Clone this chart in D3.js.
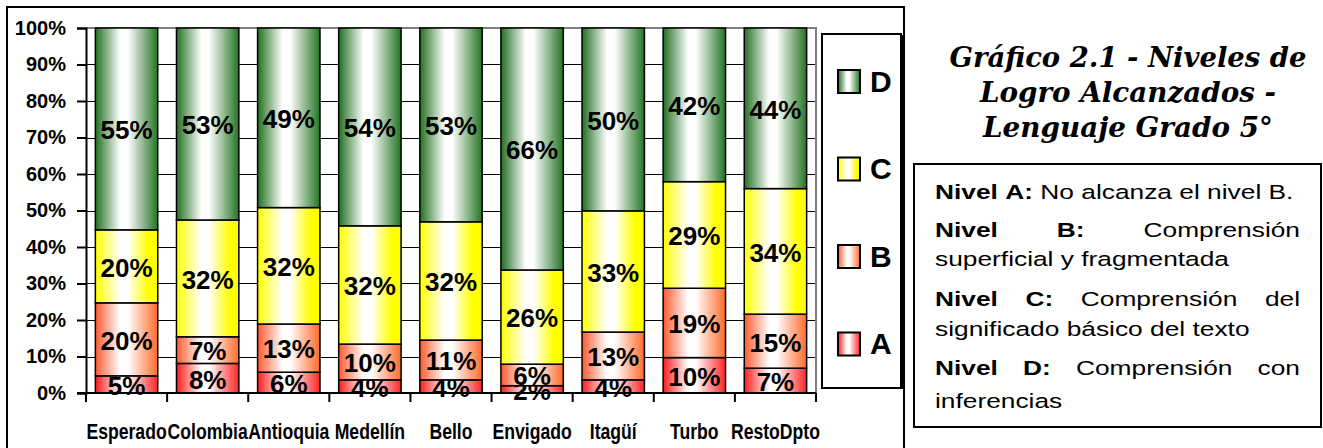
<!DOCTYPE html>
<html>
<head>
<meta charset="utf-8">
<script src="https://cdn.jsdelivr.net/npm/d3@7/dist/d3.min.js"></script>
<style>
  body { margin: 0; background: #fff; }
  svg { display: block; }
</style>
</head>
<body>
<svg id="chart" width="1323" height="448"></svg>
<script>
// values (percent of students per level)
var categories = ["Esperado", "Colombia", "Antioquia", "Medellín", "Bello", "Envigado", "Itagüí", "Turbo", "RestoDpto"];
var levelA = [4.7, 8.1, 5.7, 3.6, 3.6, 2.0, 3.6, 9.7, 6.8];
var levelB = [20.0, 7.3, 13.2, 9.8, 10.9, 5.9, 13.1, 19.0, 14.8];
var levelC = [20.0, 32.0, 31.9, 32.4, 32.4, 25.8, 33.2, 29.2, 34.4];
var levelD = [55.3, 52.6, 49.2, 54.2, 53.1, 66.3, 50.1, 42.1, 44.0];
var levelNames = ["A", "B", "C", "D"];
var yTicks = [0, 10, 20, 30, 40, 50, 60, 70, 80, 90, 100];
var titleLines = ["Gráfico 2.1 - Niveles de", "Logro Alcanzados -", "Lenguaje Grado 5°"];
var noteLines = [
  {bold: "Nivel A:", text: "No alcanza el nivel B.", justify: false},
  {bold: "Nivel B:", text: "Comprensión", justify: true},
  {bold: "", text: "superficial y fragmentada", justify: false},
  {bold: "Nivel C:", text: "Comprensión del", justify: true},
  {bold: "", text: "significado básico del texto", justify: false},
  {bold: "Nivel D:", text: "Comprensión con", justify: true},
  {bold: "", text: "inferencias", justify: false}
];

var svg = d3.select("#chart"),
  sans = "'Liberation Sans', Arial, Helvetica, sans-serif",
  narrow = "'Liberation Sans Narrow', 'Arial Narrow', 'Liberation Sans', Arial, sans-serif",
  margin = {top: 28, left: 86, right: 816, bottom: 393},
  // edge colour left, edge colour right for each level
  gradEdges = {
    A: ["#ff1a1a", "#ff2424"],
    B: ["#ff5a30", "#ff6a2a"],
    C: ["#ffff00", "#ffff00"],
    D: ["#216f21", "#237423"]
  };

var rows = categories.map(function(c, i) {
  return {cat: c, A: levelA[i], B: levelB[i], C: levelC[i], D: levelD[i]};
});
var stacked = d3.stack().keys(levelNames)(rows);

var x = d3.scaleBand()
  .domain(categories)
  .range([margin.left, margin.right])
  .paddingInner(0.3 / 1.3)
  .paddingOuter(0.15 / 1.3);
var y = d3.scaleLinear().domain([0, 100]).range([margin.bottom, margin.top]);

// gradients, white centre and saturated edges
var defs = svg.append("defs");
levelNames.forEach(function(n) {
  var g = defs.append("linearGradient")
    .attr("id", "grad" + n)
    .attr("x1", 0).attr("x2", 1).attr("y1", 0).attr("y2", 0);
  g.append("stop").attr("offset", 0).attr("stop-color", gradEdges[n][0]);
  g.append("stop").attr("offset", 0.4).attr("stop-color", "#ffffff");
  g.append("stop").attr("offset", 0.52).attr("stop-color", "#ffffff");
  g.append("stop").attr("offset", n === "C" ? 0.85 : 1).attr("stop-color", gradEdges[n][1]);
  if (n === "C") g.append("stop").attr("offset", 1).attr("stop-color", gradEdges[n][1]);
});

// outer frame of the chart
svg.append("rect")
  .attr("x", 7).attr("y", 7).attr("width", 897).attr("height", 470)
  .attr("fill", "none").attr("stroke", "#000").attr("stroke-width", 2);

// grid
svg.append("g").selectAll("line")
  .data(yTicks.filter(function(t) { return t > 0 && t < 100; }))
  .enter().append("line")
  .attr("x1", margin.left).attr("x2", margin.right)
  .attr("y1", function(d) { return Math.round(y(d)) + 0.5; })
  .attr("y2", function(d) { return Math.round(y(d)) + 0.5; })
  .attr("stroke", "#000").attr("stroke-width", 1);

// plot-area border (top and right, grey)
svg.append("path")
  .attr("d", "M" + margin.left + "," + y(100) + "H" + margin.right + "V" + margin.bottom)
  .attr("fill", "none").attr("stroke", "#808080").attr("stroke-width", 2);

// bars
var layer = svg.append("g").selectAll("g")
  .data(stacked)
  .enter().append("g")
  .attr("fill", function(d) { return "url(#grad" + d.key + ")"; });

layer.selectAll("rect")
  .data(function(d) { return d; })
  .enter().append("rect")
  .attr("x", function(d) { return x(d.data.cat); })
  .attr("width", x.bandwidth())
  .attr("y", function(d) { return y(d[1]); })
  .attr("height", function(d) { return y(d[0]) - y(d[1]); })
  .attr("stroke", "#000")
  .attr("stroke-width", 1.5);

// axes
var yAxis = svg.append("g")
  .attr("transform", "translate(" + margin.left + ",0)")
  .call(d3.axisLeft(y).tickValues(yTicks).tickSize(9).tickPadding(11)
    .tickFormat(function(d) { return d + "%"; }));
yAxis.select(".domain").attr("stroke-width", 2);
yAxis.selectAll(".tick line").attr("stroke-width", 2);
yAxis.selectAll("text")
  .attr("font-family", sans).attr("font-size", 20).attr("font-weight", "bold")
  .attr("fill", "#000");

var xAxis = svg.append("g")
  .attr("transform", "translate(0," + margin.bottom + ")")
  .call(d3.axisBottom(x).tickSize(0).tickPadding(30));
xAxis.select(".domain").attr("stroke-width", 2).attr("d", "M" + (margin.left - 9) + ",0H" + margin.right);
xAxis.selectAll("text")
  .attr("font-family", narrow).attr("font-size", 22).attr("font-weight", "bold")
  .attr("fill", "#000");

// narrow font may not exist: squeeze the regular one if it fell back
xAxis.selectAll(".tick text").each(function() {
  var t = d3.select(this),
    w1 = this.getComputedTextLength();
  t.attr("font-family", sans);
  var w2 = this.getComputedTextLength();
  if (w1 / w2 > 0.92) {
    t.attr("transform", "scale(0.8,1)");
  } else {
    t.attr("font-family", narrow);
  }
});

// category tick marks at band boundaries
svg.append("g").selectAll("line")
  .data(d3.range(categories.length + 1))
  .enter().append("line")
  .attr("x1", function(i) { return margin.left + i * x.step(); })
  .attr("x2", function(i) { return margin.left + i * x.step(); })
  .attr("y1", margin.bottom).attr("y2", margin.bottom + 9)
  .attr("stroke", "#000").attr("stroke-width", 2);

// value labels
layer.selectAll("text")
  .data(function(d) { return d; })
  .enter().append("text")
  .attr("x", function(d) { return x(d.data.cat) + x.bandwidth() / 2; })
  .attr("y", function(d) { return (y(d[0]) + y(d[1])) / 2 + 1; })
  .attr("dy", "0.36em")
  .attr("text-anchor", "middle")
  .attr("fill", "#000")
  .attr("font-family", sans).attr("font-size", 26).attr("font-weight", "bold")
  .text(function(d) { return Math.round(d[1] - d[0]) + "%"; });

// legend
var legend = svg.append("g");
legend.append("rect")
  .attr("x", 822).attr("y", 34).attr("width", 79).attr("height", 354)
  .attr("fill", "#fff").attr("stroke", "#000").attr("stroke-width", 2);
legend.append("line")
  .attr("x1", 902).attr("x2", 902).attr("y1", 35).attr("y2", 389)
  .attr("stroke", "#000").attr("stroke-width", 2);
var legendItems = legend.selectAll("g.item")
  .data(levelNames.slice().reverse())
  .enter().append("g")
  .attr("class", "item")
  .attr("transform", function(d, i) { return "translate(0," + (81 + i * 87.5) + ")"; });
legendItems.append("rect")
  .attr("x", 838).attr("y", -11).attr("width", 22).attr("height", 23)
  .attr("fill", function(d) { return "url(#grad" + d + ")"; })
  .attr("stroke", "#000").attr("stroke-width", 2);
legendItems.append("text")
  .attr("x", 870).attr("y", 0).attr("dy", "0.36em")
  .attr("font-family", sans).attr("font-size", 30).attr("font-weight", "bold")
  .text(function(d) { return d; });

// title
var titleWidths = [357, 296, 290];
svg.append("g").selectAll("text")
  .data(titleLines)
  .enter().append("text")
  .attr("x", 1128)
  .attr("y", function(d, i) { return 67 + i * 35; })
  .attr("text-anchor", "middle")
  .attr("font-family", "'DejaVu Serif', 'Bookman Old Style', serif")
  .attr("font-size", 27).attr("font-weight", "bold").attr("font-style", "italic")
  .attr("textLength", function(d, i) { return titleWidths[i]; })
  .attr("lengthAdjust", "spacingAndGlyphs")
  .text(function(d) { return d; });

// notes box
svg.append("rect")
  .attr("x", 914).attr("y", 164).attr("width", 407).attr("height", 263)
  .attr("fill", "#fff").attr("stroke", "#000").attr("stroke-width", 2);

var stretch = 1.35,
  noteSize = 19.5,
  noteLeft = 935,
  noteWidth = (1300 - noteLeft) / stretch,
  noteBase = [199, 237, 266, 306, 336, 375, 408];
var notes = svg.append("g")
  .attr("transform", "translate(" + noteLeft + ",0) scale(" + stretch + ",1)");

noteLines.forEach(function(line, li) {
  var words = [];
  if (line.bold) line.bold.split(" ").forEach(function(w) { words.push({w: w, b: true}); });
  line.text.split(" ").forEach(function(w) { words.push({w: w, b: false}); });
  var nodes = words.map(function(wd) {
    return notes.append("text")
      .attr("y", noteBase[li])
      .attr("font-family", sans).attr("font-size", noteSize)
      .attr("font-weight", wd.b ? "bold" : "normal")
      .text(wd.w);
  });
  var widths = nodes.map(function(n) { return n.node().getComputedTextLength(); }),
    total = d3.sum(widths),
    gap = line.justify && words.length > 1 ? (noteWidth - total) / (words.length - 1) : noteSize * 0.278,
    pos = 0;
  nodes.forEach(function(n, i) {
    n.attr("x", pos);
    pos += widths[i] + gap;
  });
});
</script>
</body>
</html>
